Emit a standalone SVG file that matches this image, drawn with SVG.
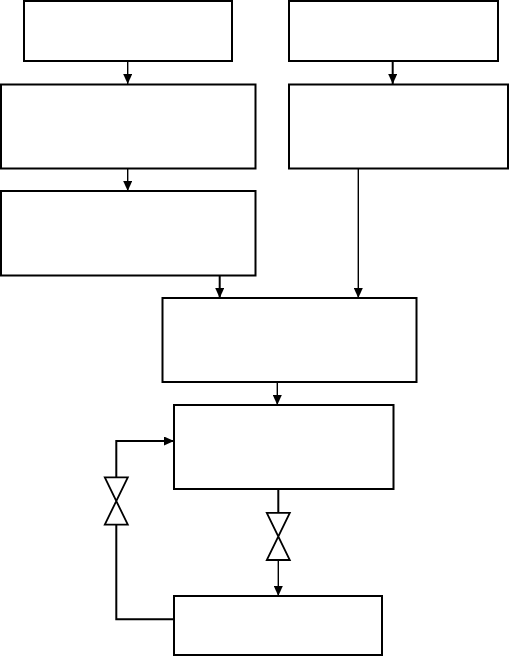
<svg xmlns="http://www.w3.org/2000/svg" width="509" height="656" viewBox="0 0 509 656">
  <style>
    .box { fill: #ffffff; stroke: #000000; stroke-width: 2; }
    .ln { fill: none; stroke: #000000; stroke-width: 1.4; }
    .lnb { fill: none; stroke: #000000; stroke-width: 2; }
    .valve { fill: #ffffff; stroke: #000000; stroke-width: 1.8; stroke-linejoin: miter; }
  </style>
  <defs>
    <marker id="arr" markerUnits="userSpaceOnUse" markerWidth="10" markerHeight="9" refX="10" refY="4.5" orient="auto">
      <path d="M0,0 L10,4.5 L0,9 Z" fill="#000000"/>
    </marker>
  </defs>
  <rect x="0" y="0" width="509" height="656" fill="#ffffff"/>

  <g id="node-a"><rect class="box" x="24" y="1" width="208" height="60"/></g>
  <g id="node-b"><rect class="box" x="289" y="1" width="209" height="60"/></g>
  <g id="node-c"><rect class="box" x="1" y="84.5" width="254.5" height="84"/></g>
  <g id="node-d"><rect class="box" x="289" y="84.5" width="219" height="84"/></g>
  <g id="node-e"><rect class="box" x="1" y="191" width="254.5" height="84.5"/></g>
  <g id="node-f"><rect class="box" x="162.5" y="298" width="254" height="84"/></g>
  <g id="node-g"><rect class="box" x="174" y="405" width="219.5" height="84"/></g>
  <g id="node-h"><rect class="box" x="174" y="596" width="208" height="59"/></g>

  <g id="connectors">
    <line class="ln" x1="127.7" y1="61" x2="127.7" y2="84"  marker-end="url(#arr)"/>
    <line class="lnb" x1="392.7" y1="61" x2="392.7" y2="84" marker-end="url(#arr)"/>
    <line class="ln" x1="127.7" y1="168.5" x2="127.7" y2="191" marker-end="url(#arr)"/>
    <line class="ln" x1="358.3" y1="168.5" x2="358.3" y2="298" marker-end="url(#arr)"/>
    <line class="lnb" x1="219.7" y1="275.5" x2="219.7" y2="298" marker-end="url(#arr)"/>
    <line class="ln" x1="277.3" y1="382" x2="277.3" y2="405" marker-end="url(#arr)"/>
    <line class="lnb" x1="278.3" y1="489" x2="278.3" y2="513"/>
    <line class="ln" x1="278.3" y1="560" x2="278.3" y2="596" marker-end="url(#arr)"/>
    <polyline class="lnb" points="174,619.3 116.3,619.3 116.3,524.7"/>
    <polyline class="lnb" points="116.3,477.3 116.3,441 174,441" marker-end="url(#arr)"/>
  </g>

  <g id="valve-1">
    <path class="valve" d="M104.8,477.3 L127.8,477.3 L104.8,524.7 L127.8,524.7 Z"/>
  </g>
  <g id="valve-2">
    <path class="valve" d="M266.8,512.8 L289.8,512.8 L266.8,560 L289.8,560 Z"/>
  </g>
</svg>
